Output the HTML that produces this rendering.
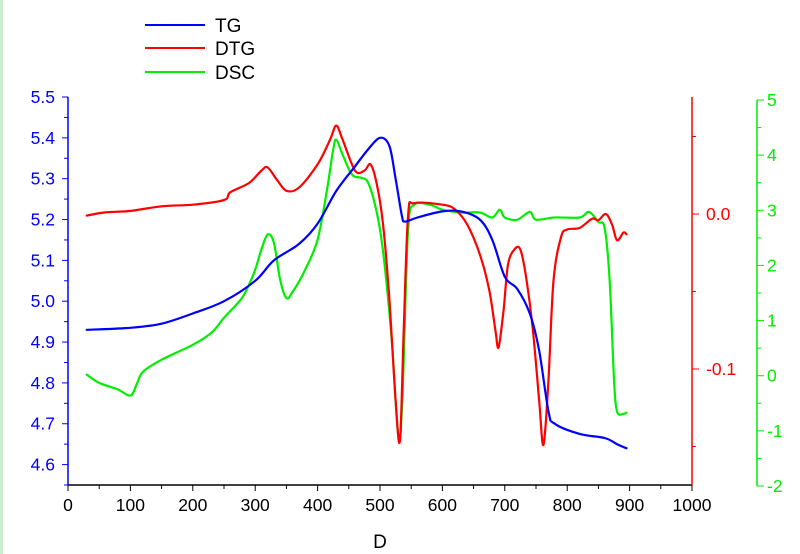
<!DOCTYPE html>
<html><head><meta charset="utf-8"><style>
body{margin:0;background:#fff;}
svg{display:block;font-family:"Liberation Sans",sans-serif;}
</style></head><body>
<svg id="chart" width="800" height="554">
<rect x="0" y="0" width="800" height="554" fill="#fff"/>
<line x1="1.5" y1="0" x2="1.5" y2="554" stroke="#cdeccd" stroke-width="3"/>
<g id="axes"></g>
<g id="series"></g>
<g>
 <g><line x1="145" y1="25" x2="205" y2="25" stroke="#0000ff" stroke-width="2"/><text x="215" y="32" font-size="19" fill="#000">TG</text></g>
 <g><line x1="145" y1="48" x2="205" y2="48" stroke="#ff0000" stroke-width="2"/><text x="215" y="55" font-size="19" fill="#000">DTG</text></g>
 <g><line x1="145" y1="72" x2="205" y2="72" stroke="#00ee00" stroke-width="2"/><text x="215" y="79" font-size="19" fill="#000">DSC</text></g>
</g>
</svg>
<script>
const xTicks=[0,100,200,300,400,500,600,700,800,900,1000];
const tgTicks=[4.6,4.7,4.8,4.9,5.0,5.1,5.2,5.3,5.4,5.5];
const dtgTicks=[-0.1,0.0];
const dscTicks=[-2,-1,0,1,2,3,4,5];
const tgX=[30,100,150,200,250,300,330,370,400,430,460,480,500,515,525,535,540,560,600,630,660,680,700,720,740,755,770,780,820,860,880,895];
const tgY=[4.93,4.935,4.945,4.97,5.0,5.05,5.1,5.14,5.19,5.27,5.33,5.37,5.4,5.38,5.3,5.21,5.195,5.205,5.22,5.22,5.2,5.15,5.06,5.03,4.97,4.88,4.73,4.7,4.675,4.665,4.65,4.64];
const dtgX=[30,60,100,150,200,250,260,290,310,320,335,350,370,400,420,430,440,460,475,485,495,505,515,525,532,538,545,555,600,620,640,660,675,685,690,698,705,715,725,735,745,755,762,770,778,790,800,820,840,850,862,872,880,890,895];
const dtgY=[-0.001,0.001,0.002,0.005,0.006,0.009,0.014,0.020,0.028,0.030,0.022,0.015,0.017,0.032,0.048,0.057,0.048,0.028,0.028,0.032,0.019,-0.007,-0.055,-0.120,-0.146,-0.075,-0.001,0.007,0.006,0.003,-0.007,-0.026,-0.049,-0.075,-0.086,-0.062,-0.033,-0.023,-0.023,-0.043,-0.075,-0.120,-0.149,-0.107,-0.043,-0.015,-0.010,-0.009,-0.003,-0.004,0,-0.007,-0.017,-0.012,-0.013];
const dscX=[30,50,80,100,110,120,150,200,230,250,270,280,290,300,310,320,330,340,350,360,380,400,415,425,430,440,455,470,480,490,500,510,520,527,532,537,545,555,580,600,630,660,680,692,700,720,740,750,780,820,835,850,860,868,875,880,890,895];
const dscY=[0.02,-0.13,-0.25,-0.36,-0.16,0.07,0.29,0.56,0.78,1.05,1.29,1.43,1.65,1.92,2.29,2.56,2.41,1.74,1.41,1.52,1.92,2.47,3.37,4.10,4.28,4.01,3.65,3.59,3.52,3.19,2.65,1.74,0.47,-0.80,-1.16,-0.07,2.65,3.10,3.10,3.01,2.96,2.96,2.87,3.01,2.87,2.83,2.97,2.83,2.87,2.87,2.97,2.79,2.68,1.74,-0.07,-0.65,-0.69,-0.67];

const NS='http://www.w3.org/2000/svg';
const L=68,R=692,T=97,B=485,GX=757;
const xs=v=>L+(v-0)/1000*(R-L);
const ysTG=v=>T+(5.5-v)/(5.5-4.55)*(B-T);
const ysDTG=v=>214-v*1550;
const ysDSC=v=>486-(v+2)*(386/7);
const axes=document.getElementById('axes'),ser=document.getElementById('series');
function mk(tag,at,parent,txt){const e=document.createElementNS(NS,tag);for(const k in at)e.setAttribute(k,at[k]);if(txt!==undefined)e.textContent=txt;parent.appendChild(e);return e;}

let e=mk('line',{x1:L,y1:B,x2:R,y2:B,stroke:'#000','stroke-width':1.5},axes);


for(let i=0;i<xTicks.length;i++){const v=xTicks[i];const x=xs(v);
 mk('line',{x1:x,y1:B,x2:x,y2:B+6,stroke:'#000'},axes);
 if(i<xTicks.length-1)mk('line',{x1:xs(v+50),y1:B,x2:xs(v+50),y2:B+4,stroke:'#000'},axes);
 e=mk('text',{x:x,y:B+26,'font-size':17.5,'text-anchor':'middle',fill:'#000'},axes,String(v));
 
 }
e=mk('text',{x:xs(500),y:548,'font-size':19,'text-anchor':'middle',fill:'#000'},axes,'D');



e=mk('line',{x1:L,y1:T,x2:L,y2:B,stroke:'#0000ff','stroke-width':1.5},axes);


for(const v of tgTicks){const y=ysTG(v);
 mk('line',{x1:L-6,y1:y,x2:L,y2:y,stroke:'#0000ff'},axes);
 if(v<5.45)mk('line',{x1:L-4,y1:ysTG(v+0.05),x2:L,y2:ysTG(v+0.05),stroke:'#0000ff'},axes);
 e=mk('text',{x:L-13,y:y+6,'font-size':17.5,'text-anchor':'end',fill:'#0000ff'},axes,v.toFixed(1));
 
 }
mk('line',{x1:L-4,y1:ysTG(4.55),x2:L,y2:ysTG(4.55),stroke:'#0000ff'},axes);

e=mk('line',{x1:R,y1:T,x2:R,y2:B,stroke:'#ff0000','stroke-width':1.5},axes);


for(const v of [0.05,-0.05,-0.15]){const y=ysDTG(v);mk('line',{x1:R,y1:y,x2:R+4,y2:y,stroke:'#ff0000'},axes);}
for(const v of dtgTicks){const y=ysDTG(v);
 mk('line',{x1:R,y1:y,x2:R+7,y2:y,stroke:'#ff0000'},axes);
 e=mk('text',{x:R+14,y:y+6,'font-size':17.5,fill:'#ff0000'},axes,v.toFixed(1));
 
 }

e=mk('line',{x1:GX,y1:ysDSC(5),x2:GX,y2:ysDSC(-2),stroke:'#00ee00','stroke-width':1.5},axes);


for(const v of dscTicks){const y=ysDSC(v);
 mk('line',{x1:GX,y1:y,x2:GX+7,y2:y,stroke:'#00ee00'},axes);
 if(v<5)mk('line',{x1:GX,y1:ysDSC(v+0.5),x2:GX+4,y2:ysDSC(v+0.5),stroke:'#00ee00'},axes);
 e=mk('text',{x:GX+10,y:y+6,'font-size':17.5,fill:'#00ee00'},axes,String(v));
 
 }

function line(X,Y,fy,color,name){
 const P=X.map((x,i)=>[xs(x),fy(Y[i])]);
 let d='M'+P[0][0].toFixed(1)+','+P[0][1].toFixed(1);
 for(let i=0;i<P.length-1;i++){
  const p0=P[Math.max(i-1,0)],p1=P[i],p2=P[i+1],p3=P[Math.min(i+2,P.length-1)];
  const c1=[p1[0]+(p2[0]-p0[0])/6,p1[1]+(p2[1]-p0[1])/6];
  const c2=[p2[0]-(p3[0]-p1[0])/6,p2[1]-(p3[1]-p1[1])/6];
  d+=' C'+c1.map(n=>n.toFixed(1)).join(',')+' '+c2.map(n=>n.toFixed(1)).join(',')+' '+p2.map(n=>n.toFixed(1)).join(',');
 }
 const p=mk('path',{d:d,fill:'none',stroke:color,'stroke-width':2.2,'stroke-linejoin':'round','stroke-linecap':'round'},ser);
 
 
}
line(dscX,dscY,ysDSC,'#00ee00','dsc-line');
line(dtgX,dtgY,ysDTG,'#ff0000','dtg-line');
line(tgX,tgY,ysTG,'#0000ff','tg-line');
</script>
</body></html>
